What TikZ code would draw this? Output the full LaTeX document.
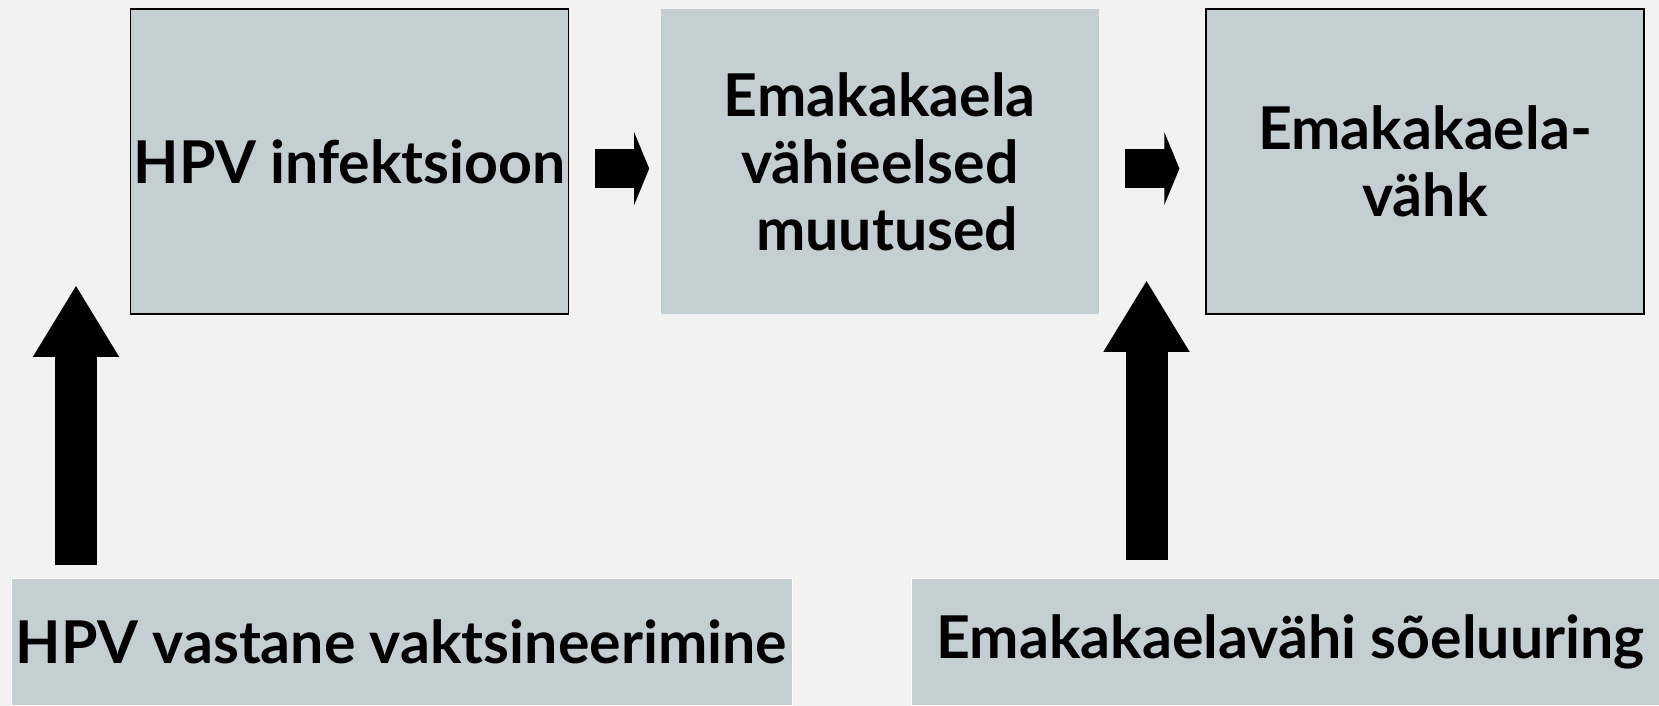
\documentclass[tikz,border=0pt]{standalone}
\usepackage{fontspec}
\setmainfont{Lato}
\usetikzlibrary{positioning,arrows.meta}
\definecolor{boxgray}{HTML}{C4CFD4}
\definecolor{pagegray}{HTML}{F2F2F2}

\begin{document}
\begin{tikzpicture}[x=1pt, y=1pt, node distance=91pt,
    font=\fontsize{59}{67}\selectfont\bfseries,
    stage/.style={fill=boxgray, draw=black, line width=1.2pt, minimum width=438pt,
      minimum height=305pt, inner sep=0pt, align=center},
    action/.style={fill=boxgray, draw=white, line width=1pt, minimum height=127pt,
      inner sep=0pt, align=center},
    fatarrow/.style={line width=39pt, -{Triangle[length=15pt,width=72pt]}},
    uparrow/.style={line width=42pt, -{Triangle[length=72pt,width=81pt]}}]
  \useasboundingbox (0,0) rectangle (1659,706);
  \clip (0,0) rectangle (1659,706);
  \fill[pagegray] (0,0) rectangle (1659,706);

  % top row
  \node[stage, anchor=north west] (infection) at (130,697.5) {HPV infektsioon};
  \node[stage, draw=none, right=91pt of infection] (precancer)
    {Emakakaela\\vähieelsed\\\hspace*{0.25em}muutused};
  \node[stage, right=106pt of precancer] (cancer) {Emakakaela-\\vähk};

  % bottom row
  \node[action, minimum width=781pt, anchor=south west] (vaccine) at (10.5,0)
    {HPV vastane vaktsineerimine};
  \node[action, minimum width=758pt, anchor=south west] (screening) at (911,0)
    {Emakakaelavähi sõeluuring};

  \coordinate (vacctip) at ([xshift=65.5pt,yshift=293pt]vaccine.north west);
  \coordinate (screentip) at ([xshift=235.5pt,yshift=298pt]screening.north west);

  \draw[fatarrow, shorten <=26pt, shorten >=11pt]
    ([yshift=-7pt]infection.east) -- ([yshift=-7pt]precancer.west);
  \draw[fatarrow, shorten <=26pt, shorten >=26pt]
    ([yshift=-7pt]precancer.east) -- ([yshift=-7pt]cancer.west);
  \draw[uparrow, shorten <=12.5pt] ([xshift=65.5pt]vaccine.north west) -- (vacctip);
  \draw[uparrow, shorten <=17.5pt] ([xshift=235.5pt]screening.north west) -- (screentip);
\end{tikzpicture}
\end{document}
